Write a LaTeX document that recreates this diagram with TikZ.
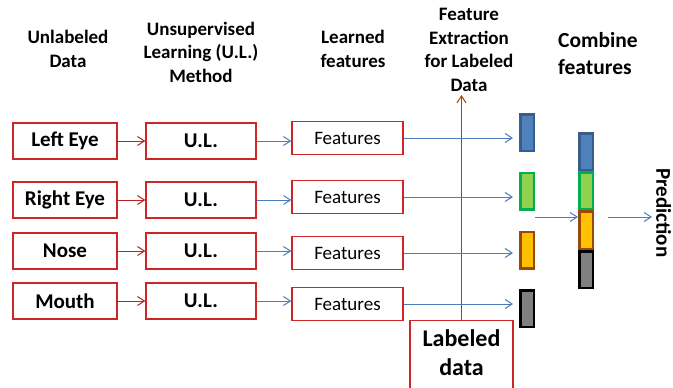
\documentclass[tikz,border=0pt]{standalone}
\usepackage{fontspec}
\setmainfont{Carlito}
\usepackage{xcolor}
\usetikzlibrary{arrows.meta,positioning}
\definecolor{boxred}{RGB}{206,38,38}
\definecolor{flowblue}{RGB}{74,126,187}
\definecolor{labbrown}{RGB}{158,72,14}
\definecolor{vecblue}{RGB}{79,129,189}
\definecolor{vecblueb}{RGB}{56,93,138}
\definecolor{vecgreen}{RGB}{146,208,80}
\definecolor{vecgreenb}{RGB}{0,176,80}
\definecolor{vecorange}{RGB}{255,192,0}
\definecolor{vecorangeb}{RGB}{152,72,7}
\definecolor{vecgray}{RGB}{128,128,128}

\begin{document}
\begin{tikzpicture}[
    x=1pt, y=-1pt,
    box/.style={rectangle, draw=boxred, line width=1.3pt, fill=white, minimum height=36pt, inner sep=0pt, font=\fontsize{21}{25}\selectfont\bfseries},
    srcbox/.style={box, minimum width=104pt},
    ulbox/.style={box, minimum width=110pt},
    featbox/.style={box, minimum width=111pt, minimum height=33pt, font=\fontsize{19}{23}\selectfont},
    head/.style={align=center, font=\fontsize{19}{23.5}\selectfont\bfseries},
    bar/.style={rectangle, line width=2.5pt, minimum width=13.5pt, minimum height=36.5pt, inner sep=0pt},
    redarrow/.style={-{Straight Barb[length=7pt,width=9pt]}, boxred!90!black, line width=1pt},
    bluearrow/.style={-{Straight Barb[length=7pt,width=9pt]}, flowblue, line width=1pt},
    brownarrow/.style={-{Straight Barb[length=7pt,width=9pt]}, labbrown, line width=1pt}
]
    \useasboundingbox (0,0) rectangle (673,388);

    % Column headers
    \node[head] (hunl) at (68,49) {Unlabeled\\Data};
    \node[head] (hul) at (201,52) {Unsupervised\\Learning (U.L.)\\Method};
    \node[head] (hlearn) at (353,49) {Learned\\features};
    \node[head] (hfe) at (469,50) {Feature\\Extraction\\for Labeled\\Data};
    \node[head, align=left, font=\fontsize{21.5}{27}\selectfont\bfseries] (hcomb) at (598,54) {Combine\\features};

    % Unlabeled data (left column)
    \node[srcbox] (lefteye) at (65,141) {Left Eye};
    \node[srcbox] (righteye) at (65,200) {Right Eye};
    \node[srcbox] (nose) at (65,251) {Nose};
    \node[srcbox] (mouth) at (65,301) {Mouth};

    % U.L. method
    \node[ulbox] (ul1) at (201,141) {U.L.};
    \node[ulbox] (ul2) at (201,200) {U.L.};
    \node[ulbox] (ul3) at (201,251) {U.L.};
    \node[ulbox] (ul4) at (201,301) {U.L.};

    % Learned features
    \node[featbox] (feat1) at (347.5,138) {Features};
    \node[featbox] (feat2) at (347.5,197) {Features};
    \node[featbox] (feat3) at (347.5,253) {Features};
    \node[featbox] (feat4) at (347.5,304) {Features};

    % Feature vectors for labeled data
    \node[bar, fill=vecblue, draw=vecblueb] (vec1) at (527,132.5) {};
    \node[bar, fill=vecgreen, draw=vecgreenb] (vec2) at (527,191) {};
    \node[bar, fill=vecorange, draw=vecorangeb] (vec3) at (527,250) {};
    \node[bar, fill=vecgray, draw=black] (vec4) at (527,308.5) {};

    % Combined vector
    \node[bar, fill=vecblue, draw=vecblueb] (comb1) at (586,151.5) {};
    \node[bar, fill=vecgreen, draw=vecgreenb] (comb2) at (586,190.5) {};
    \node[bar, fill=vecorange, draw=vecorangeb, minimum height=37.5pt] (comb3) at (586,230) {};
    \node[bar, fill=vecgray, draw=black] (comb4) at (586,269.5) {};

    \node[font=\fontsize{21}{25}\selectfont\bfseries, rotate=-90, anchor=south, inner sep=0pt] (pred) at (656,213) {Prediction};

    % Labeled data
    \node[box, anchor=north, minimum width=103pt, minimum height=90pt] (labeled) at (461.5,320) {};
    \node[align=center, font=\fontsize{24}{29}\selectfont\bfseries] (labtext) at (461.5,353) {Labeled\\data};
    \coordinate (fetop) at (461.5,95);
    \draw[brownarrow] (labeled.north) -- (fetop);

    % Arrows
    \draw[redarrow] (lefteye) -- (ul1);
    \draw[redarrow] (righteye) -- (ul2);
    \draw[redarrow] (nose) -- (ul3);
    \draw[redarrow] (mouth) -- (ul4);

    \draw[bluearrow] (ul1) -- (ul1 -| feat1.west);
    \draw[bluearrow] (ul2) -- (ul2 -| feat2.west);
    \draw[bluearrow] (ul3) -- (ul3 -| feat3.west);
    \draw[bluearrow] (ul4) -- (ul4 -| feat4.west);

    \draw[bluearrow, shorten >=6pt] (feat1) -- (feat1 -| vec1.west);
    \draw[bluearrow, shorten >=6pt] (feat2) -- (feat2 -| vec2.west);
    \draw[bluearrow, shorten >=6pt] (feat3) -- (feat3 -| vec3.west);
    \draw[bluearrow, shorten >=6pt] (feat4) -- (feat4 -| vec4.west);

    \coordinate (join) at (535,217);
    \draw[bluearrow] (join) -- (join -| comb3.west);
    \draw[bluearrow, shorten <=14pt, shorten >=4pt] (join -| comb3.east) -- (join -| pred.south);
\end{tikzpicture}
\end{document}
